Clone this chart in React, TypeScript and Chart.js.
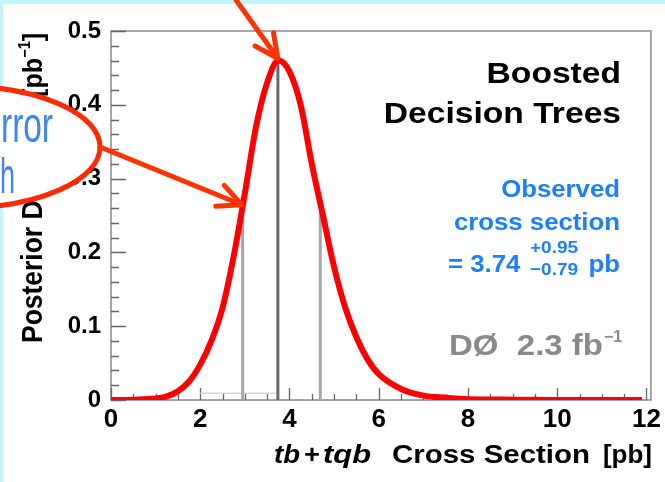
import React, { useEffect, useRef } from "react";
import { Chart, registerables } from "chart.js";
Chart.register(...registerables);

// ---- data ----
const curveX = [0, 0.5, 1.0, 1.25, 1.5, 1.75, 2.0, 2.25, 2.5, 2.75, 3.0, 3.25, 3.5, 3.75, 4.0, 4.25, 4.5, 4.75, 5.0, 5.25, 5.5, 5.75, 6.0, 6.5, 7.0, 7.5, 8.0, 9.0, 10.0, 11.9];
const curveY = [0, 0.0005, 0.002, 0.005, 0.012, 0.025, 0.048, 0.08, 0.125, 0.195, 0.28, 0.37, 0.43, 0.46, 0.445, 0.4, 0.32, 0.25, 0.18, 0.125, 0.085, 0.055, 0.035, 0.015, 0.006, 0.003, 0.001, 0.0005, 0, 0];
const measured = 3.74;
const errPlus = 0.95;
const errMinus = 0.79;
const bandX = [measured - errMinus, measured, measured + errPlus];
const bandTop = [0.266, 0.46, 0.262];
const shadeX = [2.0, 3.74];
const shadeY = [0.009, 0.009];
const xTickValues = [0, 2, 4, 6, 8, 10, 12];
const xTickLabels = ["0", "2", "4", "6", "8", "10", "12"];
const yTickValues = [0, 0.1, 0.2, 0.3, 0.4, 0.5];
const yTickLabels = ["0", "0.1", "0.2", "0.3", "0.4", "0.5"];
const xMinorStep = 0.5;
const yMinorStep = 0.02;

const FONT = '"Liberation Sans", Arial, Helvetica, sans-serif';
const NARROW = '"Liberation Sans Narrow", "Liberation Sans", Arial, sans-serif';

type TOpts = { bold?: boolean; italic?: boolean; color: string; align?: "left" | "right" | "center"; sx?: number; family?: string };

function fontStr(size: number, o: TOpts) {
  return `${o.italic ? "italic " : ""}${o.bold ? "bold " : ""}${size}px ${o.family || FONT}`;
}

function txt(ctx: CanvasRenderingContext2D, s: string, x: number, y: number, size: number, o: TOpts) {
  ctx.save();
  ctx.font = fontStr(size, o);
  ctx.fillStyle = o.color;
  ctx.textBaseline = "alphabetic";
  ctx.textAlign = "left";
  const sx = o.sx ?? 1;
  const w = ctx.measureText(s).width * sx;
  const left = o.align === "right" ? x - w : o.align === "center" ? x - w / 2 : x;
  ctx.translate(left, y);
  ctx.scale(sx, 1);
  ctx.fillText(s, 0, 0);
  ctx.restore();
  return w;
}

function fit(ctx: CanvasRenderingContext2D, s: string, x0: number, x1: number, y: number, size: number, o: TOpts) {
  ctx.save();
  ctx.font = fontStr(size, o);
  const w = ctx.measureText(s).width;
  ctx.restore();
  return txt(ctx, s, x0, y, size, { ...o, sx: (x1 - x0) / w, align: "left" });
}

function arrow(ctx: CanvasRenderingContext2D, x0: number, y0: number, x1: number, y1: number, color: string) {
  const ang = Math.atan2(y0 - y1, x0 - x1);
  const L = 26;
  const spread = 0.45;
  ctx.save();
  ctx.strokeStyle = color;
  ctx.lineWidth = 5;
  ctx.lineCap = "round";
  ctx.lineJoin = "round";
  ctx.beginPath();
  ctx.moveTo(x0, y0);
  ctx.lineTo(x1, y1);
  ctx.moveTo(x1 + L * Math.cos(ang - spread), y1 + L * Math.sin(ang - spread));
  ctx.lineTo(x1, y1);
  ctx.lineTo(x1 + L * Math.cos(ang + spread), y1 + L * Math.sin(ang + spread));
  ctx.stroke();
  ctx.restore();
}

const deco = {
  id: "deco",
  beforeDraw(chart: any) {
    const ctx: CanvasRenderingContext2D = chart.ctx;
    ctx.save();
    ctx.fillStyle = "#ffffff";
    ctx.fillRect(0, 0, chart.width, chart.height);
    ctx.fillStyle = "#c3f4fc";
    ctx.fillRect(0, 0, chart.width, 4);
    ctx.fillRect(0, 0, 3, chart.height);
    ctx.restore();
  },
  beforeDatasetsDraw(chart: any) {
    const ctx: CanvasRenderingContext2D = chart.ctx;
    const a = chart.chartArea;
    const xs = chart.scales.x;
    const ys = chart.scales.y;
    ctx.save();
    ctx.strokeStyle = "#8a8a8a";
    ctx.lineWidth = 1.5;
    ctx.strokeRect(a.left, a.top, a.right - a.left, a.bottom - a.top);
    ctx.strokeStyle = "#666666";
    ctx.lineWidth = 1.3;
    ctx.beginPath();
    for (let v = 0; v <= 0.5 + 1e-9; v += yMinorStep) {
      const py = Math.round(ys.getPixelForValue(v)) + 0.5;
      const major = Math.abs(v * 10 - Math.round(v * 10)) < 1e-6;
      ctx.moveTo(a.left, py);
      ctx.lineTo(a.left + (major ? 15 : 8), py);
    }
    for (let v = 0; v <= 12 + 1e-9; v += xMinorStep) {
      const px = Math.round(xs.getPixelForValue(v)) + 0.5;
      const major = Math.abs(v / 2 - Math.round(v / 2)) < 1e-6;
      ctx.moveTo(px, a.bottom);
      ctx.lineTo(px, a.bottom - (major ? 12 : 6));
    }
    ctx.stroke();
    ctx.restore();
  },
  afterDatasetsDraw(chart: any) {
    const ctx: CanvasRenderingContext2D = chart.ctx;
    // in-plot labels
    txt(ctx, "Boosted", 621, 83, 30, { bold: true, color: "#000", align: "right", sx: 1.12 });
    txt(ctx, "Decision Trees", 621, 123, 30, { bold: true, color: "#000", align: "right", sx: 1.12 });
    const blue = "#1a80ff";
    txt(ctx, "Observed", 620, 197, 23, { bold: true, color: blue, align: "right", sx: 1.12 });
    txt(ctx, "cross section", 620, 230, 23, { bold: true, color: blue, align: "right", sx: 1.12 });
    txt(ctx, "= 3.74", 448, 272, 23, { bold: true, color: blue, sx: 1.12 });
    txt(ctx, "+0.95", 530, 253, 17, { bold: true, color: blue, sx: 1.12 });
    txt(ctx, "\u22120.79", 530, 275, 17, { bold: true, color: blue, sx: 1.12 });
    txt(ctx, "pb", 620, 272, 23, { bold: true, color: blue, align: "right", sx: 1.12 });
    const gray = "#8a8a8a";
    txt(ctx, "D\u00D8  2.3 fb", 603, 355, 30, { bold: true, color: gray, align: "right", sx: 1.1 });
    txt(ctx, "\u22121", 604, 342, 16, { bold: true, color: gray, sx: 1.0 });

    // x-axis title
    const b = { bold: true, color: "#000" };
    fit(ctx, "tb", 274, 300, 463, 26, { ...b, italic: true });
    fit(ctx, "+", 304, 320, 463, 26, b);
    fit(ctx, "tqb", 323, 371, 463, 26, { ...b, italic: true });
    fit(ctx, "Cross Section", 392, 590, 463, 26, b);
    txt(ctx, "[pb]", 652, 463, 26, { ...b, align: "right", sx: 1.0 });

    // y-axis title (rotated)
    ctx.save();
    ctx.translate(42, 343);
    ctx.rotate(-Math.PI / 2);
    ctx.scale(0.98, 1.08);
    ctx.font = fontStr(27, b);
    ctx.fillStyle = "#000";
    ctx.fillText("Posterior Density", 0, 0);
    ctx.restore();
    ctx.save();
    ctx.translate(42, 97);
    ctx.rotate(-Math.PI / 2);
    ctx.scale(0.97, 1.08);
    ctx.font = fontStr(26, b);
    ctx.fillStyle = "#000";
    ctx.fillText("[pb", 0, 0);
    let w = ctx.measureText("[pb").width;
    ctx.font = fontStr(15, b);
    ctx.fillText("\u22121", w, -11);
    w += ctx.measureText("\u22121").width;
    ctx.font = fontStr(26, b);
    ctx.fillText("]", w, 0);
    ctx.restore();
  },
  afterDraw(chart: any) {
    const ctx: CanvasRenderingContext2D = chart.ctx;
    const xs = chart.scales.x;
    const ys = chart.scales.y;
    const red = "#ff2a00";
    // callout ellipse
    const cx = -40, cy = 147, rx = 140, ry = 61;
    ctx.save();
    ctx.beginPath();
    ctx.ellipse(cx, cy, rx, ry, 0, 0, Math.PI * 2);
    ctx.fillStyle = "#ffffff";
    ctx.fill();
    ctx.lineWidth = 5;
    ctx.strokeStyle = red;
    ctx.stroke();
    ctx.restore();
    const lblue = "#3f86f2";
    fit(ctx, "rror", 1, 53, 142, 50, { color: lblue, family: NARROW });
    fit(ctx, "h", 0, 15, 193, 50, { color: lblue, family: NARROW });
    // arrows pointing at the peak and at the lower band edge
    arrow(ctx, 236, 0, xs.getPixelForValue(measured), ys.getPixelForValue(bandTop[1]) - 2, "#ff3300");
    arrow(ctx, cx + rx, cy, xs.getPixelForValue(bandX[0]) - 1, ys.getPixelForValue(bandTop[0]) + 1, "#ff3300");
  },
};

export default function App() {
  const ref = useRef<HTMLCanvasElement | null>(null);
  useEffect(() => {
    if (!ref.current) return;
    const bandColors = ["#a6a6a6", "#6a6a6a", "#a6a6a6"];
    const chart = new Chart(ref.current, {
      type: "line",
      data: {
        datasets: [
          {
            label: "Posterior",
            data: curveX.map((x, i) => ({ x, y: curveY[i] })),
            borderColor: "#ff0000",
            borderWidth: 6,
            pointRadius: 0,
            cubicInterpolationMode: "monotone",
            order: 0,
          } as any,
          ...bandX.map((bx, i) => ({
            label: "band" + i,
            data: [{ x: bx, y: 0 }, { x: bx, y: bandTop[i] }],
            borderColor: bandColors[i],
            borderWidth: 3,
            pointRadius: 0,
            order: 1,
          })),
          {
            label: "shade",
            data: shadeX.map((x, i) => ({ x, y: shadeY[i] })),
            borderColor: "#d6d6d6",
            borderWidth: 1.5,
            pointRadius: 0,
            order: 2,
          },
        ],
      },
      options: {
        animation: false,
        responsive: false,
        devicePixelRatio: 1,
        layout: { padding: { top: 31, right: 9, left: 0, bottom: 0 } },
        plugins: { legend: { display: false }, tooltip: { enabled: false } },
        scales: {
          x: {
            type: "linear",
            min: 0,
            max: 12.1,
            grid: { display: false, drawTicks: false },
            border: { display: false },
            afterBuildTicks: (s: any) => {
              s.ticks = xTickValues.map((v) => ({ value: v }));
            },
            afterFit: (s: any) => {
              s.height = 82;
            },
            ticks: {
              autoSkip: false,
              maxRotation: 0,
              padding: 4,
              color: "#000",
              font: { family: FONT, size: 26, weight: "bold" },
              callback: (_v: any, i: number) => xTickLabels[i],
            },
          },
          y: {
            type: "linear",
            min: 0,
            max: 0.5,
            grid: { display: false, drawTicks: false },
            border: { display: false },
            afterBuildTicks: (s: any) => {
              s.ticks = yTickValues.map((v) => ({ value: v }));
            },
            afterFit: (s: any) => {
              s.width = 111;
            },
            ticks: {
              autoSkip: false,
              padding: 10,
              color: "#000",
              font: { family: FONT, size: 24, weight: "bold" },
              callback: (_v: any, i: number) => yTickLabels[i],
            },
          },
        },
      },
      plugins: [deco],
    });
    return () => chart.destroy();
  }, []);
  return (
    <div style={{ position: "absolute", left: 0, top: 0, width: 665, height: 482 }}>
      <canvas ref={ref} width={665} height={482} style={{ display: "block" }} />
    </div>
  );
}
